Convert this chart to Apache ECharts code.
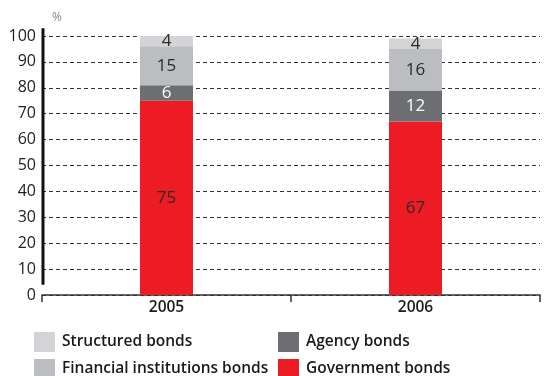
<!DOCTYPE html>
<html>
<head>
<meta charset="utf-8">
<script src="https://cdn.jsdelivr.net/npm/echarts@6/dist/echarts.min.js"></script>
<style>
  html, body { margin: 0; padding: 0; background: #fff; }
  #chart { width: 545px; height: 376px; }
</style>
</head>
<body>
<div id="chart"></div>
<script>
// Portfolio composition by bond type, share in percent
const years = ['2005', '2006'];
const government = [75, 67];
const agency = [6, 12];
const financial = [15, 16];
const structured = [4, 4];
const yTicks = [0, 10, 20, 30, 40, 50, 60, 70, 80, 90, 100];

const FONT = 'Open Sans';
const colors = {
  government: '#ed1c24',
  agency: '#6d6e71',
  financial: '#bcbdc1',
  structured: '#d4d4d6'
};

function barSeries(name, data, color, labelColor) {
  return {
    name: name,
    type: 'bar',
    stack: 'total',
    data: data,
    barWidth: 53,
    itemStyle: { color: color },
    label: {
      show: true,
      position: 'inside',
      color: labelColor,
      fontFamily: FONT,
      fontSize: 17
    },
    emphasis: { disabled: true }
  };
}

// One legend block per entry, arranged as a 2 x 2 key under the plot
function legendItem(name, left, top) {
  return {
    data: [name],
    left: left, top: top,
    padding: 0,
    itemWidth: 21, itemHeight: 20, itemGap: 0,
    icon: 'rect',
    selectedMode: false,
    textStyle: { fontFamily: FONT, fontSize: 15.5, color: '#1a1a1a', fontWeight: 600, padding: [0, 0, 0, 2] }
  };
}

const chart = echarts.init(document.getElementById('chart'));

chart.setOption({
  animation: false,
  grid: { left: 42, right: 5, top: 36, bottom: 81 },
  legend: [
    legendItem('Structured bonds', 34, 332),
    legendItem('Financial institutions bonds', 34, 359),
    legendItem('Agency bonds', 278, 332),
    legendItem('Government bonds', 278, 359)
  ],
  xAxis: {
    type: 'category',
    data: years,
    axisLine: { lineStyle: { color: '#333', width: 1.5 } },
    axisTick: { show: true, length: 7, lineStyle: { color: '#333', width: 1.5 } },
    axisLabel: { color: '#1a1a1a', fontFamily: FONT, fontSize: 15.5, fontWeight: 600, margin: 5 }
  },
  yAxis: {
    type: 'value',
    min: yTicks[0],
    max: yTicks[yTicks.length - 1],
    interval: yTicks[1] - yTicks[0],
    name: '%',
    nameLocation: 'end',
    nameGap: 12,
    nameTextStyle: { color: '#888', fontFamily: FONT, fontSize: 12, align: 'left', padding: [0, 0, 0, 10] },
    axisLine: { show: false },
    axisTick: { show: false },
    axisLabel: { color: '#222', fontFamily: FONT, fontSize: 16, margin: 6 },
    splitLine: {
      show: true,
      lineStyle: { color: '#333', type: [4, 3], width: 1 }
    }
  },
  series: [
    barSeries('Government bonds', government, colors.government, '#2a2a2a'),
    barSeries('Agency bonds', agency, colors.agency, '#fff'),
    barSeries('Financial institutions bonds', financial, colors.financial, '#2a2a2a'),
    barSeries('Structured bonds', structured, colors.structured, '#2a2a2a')
  ]
});

// Heavy vertical value-axis rule, placed through the chart's own scale
const ruleTop = chart.convertToPixel({ yAxisIndex: 0 }, 103);
const ruleBottom = chart.convertToPixel({ yAxisIndex: 0 }, 4);
chart.setOption({
  graphic: [{
    type: 'line',
    shape: { x1: 43, y1: ruleTop, x2: 43, y2: ruleBottom },
    style: { stroke: '#111', lineWidth: 3 },
    z: 10
  }]
});
</script>
</body>
</html>
